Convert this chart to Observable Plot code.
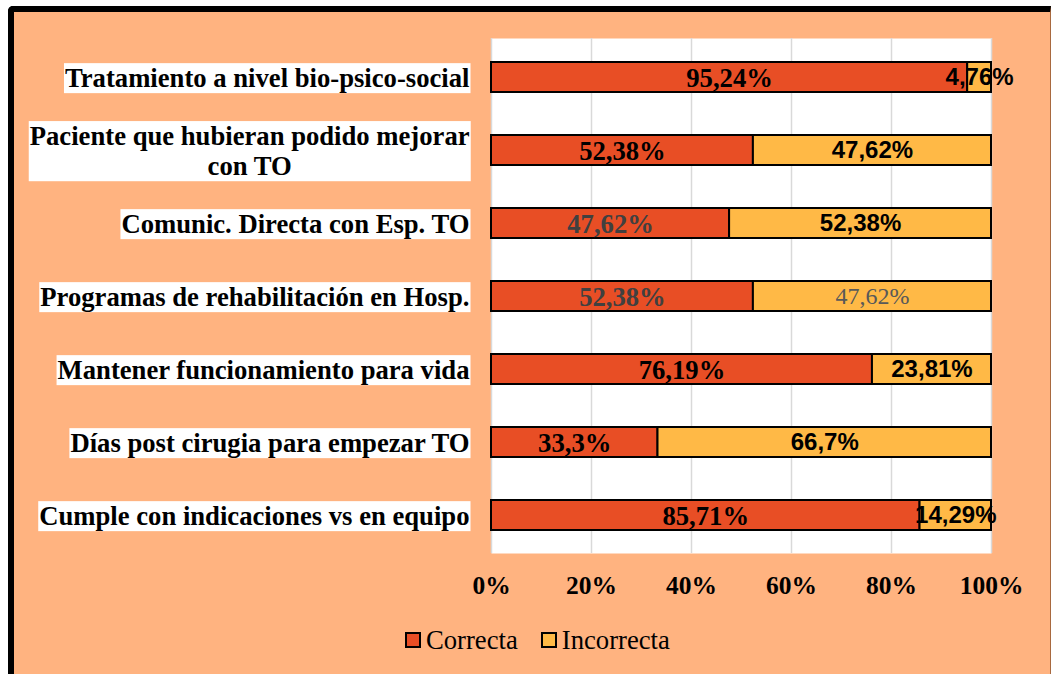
<!DOCTYPE html>
<html>
<head>
<meta charset="utf-8">
<script src="https://cdn.jsdelivr.net/npm/d3@7"></script>
<script src="https://cdn.jsdelivr.net/npm/@observablehq/plot@0.6"></script>
<style>
  html, body { margin: 0; padding: 0; background: #ffffff; width: 1051px; height: 674px; overflow: hidden; }
  #frame {
    position: absolute; left: 8px; top: 6px; width: 1043px; height: 700px;
    box-sizing: border-box; background: #FFB380;
    border-top: 6px solid #000; border-left: 6px solid #000; border-right: 1px solid #A8693F;
    border-top-left-radius: 5px;
  }
  #chart { position: absolute; left: 0; top: 0; width: 1051px; }
  #legend {
    position: absolute; top: 622px; left: 405px; display: flex; align-items: center;
    font-family: "Liberation Serif", "Times New Roman", serif; font-size: 26.67px; line-height: 36px; color: #000;
  }
  #legend .sw { width: 16px; height: 16px; box-sizing: border-box; border: 2px solid #000; display: inline-block; }
  #legend .lb { margin-left: 5px; }
  #legend .item + .item { margin-left: 23px; }
  #legend .item { display: flex; align-items: center; }
</style>
</head>
<body>
<div id="frame"></div>
<div id="chart"></div>
<script>
// ---- data ----
const categories = [
  "Tratamiento a nivel bio-psico-social",
  "Paciente que hubieran podido mejorar\ncon TO",
  "Comunic. Directa con Esp. TO",
  "Programas de rehabilitación en Hosp.",
  "Mantener funcionamiento para vida",
  "Días post cirugia para empezar TO",
  "Cumple con indicaciones vs en equipo"
];
const series = ["Correcta", "Incorrecta"];
const correcta   = [95.24, 52.38, 47.62, 52.38, 76.19, 33.3, 85.71];
const incorrecta = [4.76, 47.62, 52.38, 47.62, 23.81, 66.7, 14.29];
const xTicks = [0, 20, 40, 60, 80, 100];

// ---- drawing ----
const colors = ["#E84E25", "#FFB946"];
const serif = "Liberation Serif, Times New Roman, serif";
const sans = "Liberation Sans, Arial, sans-serif";

const rows = categories.flatMap((cat, i) => [
  {cat, i, resp: series[0], value: correcta[i], start: 0},
  {cat, i, resp: series[1], value: incorrecta[i], start: correcta[i]}
]).map(d => ({...d, mid: d.start + d.value / 2}));
const fmt = v => String(v).replace(".", ",") + "%";

// label style groups (matching the reference's per-label formatting)
const isSerifBold = d => d.resp === series[0] && d.i !== 2 && d.i !== 3;
const isGrayBold  = d => d.resp === series[0] && (d.i === 2 || d.i === 3);
const isSansBold  = d => d.resp === series[1] && d.i !== 3;
const isGrayPlain = d => d.resp === series[1] && d.i === 3;

const chart = Plot.plot({
  width: 1051,
  height: 612,
  marginLeft: 491,
  marginRight: 60,
  marginTop: 38,
  marginBottom: 59,
  style: {background: "transparent", overflow: "visible"},
  x: {domain: [0, 100], axis: null},
  y: {domain: categories, paddingInner: 0.59, paddingOuter: 0.295, axis: null},
  color: {domain: series, range: colors},
  marks: [
    Plot.frame({fill: "white", stroke: "none"}),
    Plot.gridX({ticks: xTicks, stroke: "#D9D9D9", strokeOpacity: 1, strokeWidth: 1.5}),
    Plot.barX(rows, Plot.stackX({x: "value", y: "cat", fill: "resp", stroke: "#000", strokeWidth: 2, order: null})),
    Plot.text(categories, {
      y: d => d, text: d => d, frameAnchor: "left", textAnchor: "end", dx: -22,
      fontFamily: serif, fontWeight: "bold", fontSize: 26.67, fill: "#000", lineHeight: 1.13
    }),
    Plot.text(rows.filter(isSerifBold), {x: "mid", y: "cat", text: d => fmt(d.value),
      fontFamily: serif, fontWeight: "bold", fontSize: 26.67, fill: "#000", dy: 1}),
    Plot.text(rows.filter(isGrayBold), {x: "mid", y: "cat", text: d => fmt(d.value),
      fontFamily: serif, fontWeight: "bold", fontSize: 26.67, fill: "#404040", dy: 1}),
    Plot.text(rows.filter(isSansBold), {x: "mid", y: "cat", text: d => fmt(d.value),
      fontFamily: sans, fontWeight: "bold", fontSize: 24, fill: "#000", dy: 0}),
    Plot.text(rows.filter(isGrayPlain), {x: "mid", y: "cat", text: d => fmt(d.value),
      fontFamily: serif, fontWeight: "normal", fontSize: 24, fill: "#595959", dy: 0}),
    Plot.axisX({ticks: xTicks, tickFormat: d => d + "%", tickSize: 0, tickPadding: 22,
      fontFamily: serif, fontWeight: "bold", fontSize: 25.5, fill: "#000"})
  ]
});

document.getElementById("chart").appendChild(chart);

// white boxes behind category labels; center the lines of multi-line labels
const textGroups = chart.querySelectorAll('g[aria-label="text"]');
const catG = textGroups[0];
catG.querySelectorAll("text").forEach(t => {
  const tspans = t.querySelectorAll("tspan");
  if (tspans.length > 1) {
    const b0 = t.getBBox();
    const cx = b0.x + b0.width / 2;
    t.setAttribute("text-anchor", "middle");
    tspans.forEach(s => s.setAttribute("x", cx));
  }
  const b = t.getBBox();
  const r = document.createElementNS("http://www.w3.org/2000/svg", "rect");
  r.setAttribute("x", b.x - 1);
  r.setAttribute("y", b.y);
  r.setAttribute("width", b.width + 2);
  r.setAttribute("height", b.height);
  r.setAttribute("fill", "#fff");
  const tr = t.getAttribute("transform");
  if (tr) r.setAttribute("transform", tr);
  t.parentNode.insertBefore(r, t);
});

// legend below the svg
const legend = document.createElement("div");
legend.id = "legend";
series.forEach((s, k) => {
  const item = document.createElement("div");
  item.className = "item";
  const sw = document.createElement("span");
  sw.className = "sw";
  sw.style.background = colors[k];
  const lb = document.createElement("span");
  lb.className = "lb";
  lb.textContent = s;
  item.appendChild(sw); item.appendChild(lb);
  legend.appendChild(item);
});
document.getElementById("chart").appendChild(legend);
</script>
</body>
</html>
